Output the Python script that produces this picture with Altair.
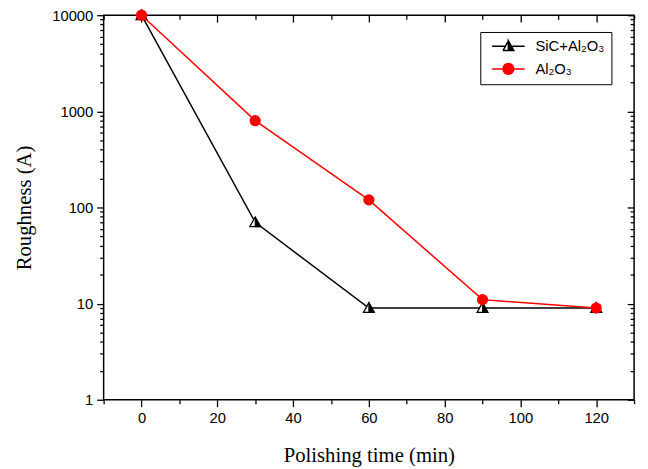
import altair as alt
import pandas as pd

# ---- data ----
times = [0, 30, 60, 90, 120]
sic_al2o3 = [10000, 70, 9, 9, 9]
al2o3 = [10000, 800, 120, 11, 9]
series_names = ["SiC+Al₂O₃", "Al₂O₃"]
series_colors = ["#000000", "#ff0000"]

x_major = [0, 20, 40, 60, 80, 100, 120]
x_minor = [-10, 10, 30, 50, 70, 90, 110, 130]
y_major = [1, 10, 100, 1000, 10000]
y_minor = [2, 3, 4, 5, 6, 7, 8, 9,
           20, 30, 40, 50, 60, 70, 80, 90,
           200, 300, 400, 500, 600, 700, 800, 900,
           2000, 3000, 4000, 5000, 6000, 7000, 8000, 9000]

df_sic = pd.DataFrame({"time": times, "value": sic_al2o3, "series": series_names[0]})
df_al = pd.DataFrame({"time": times, "value": al2o3, "series": series_names[1]})
df = pd.concat([df_sic, df_al], ignore_index=True)

# ---- shapes ----
tri_full = "M0,-1L1,0.8L-1,0.8Z"
tri_right = "M0,-1L1,0.8L0,0.8Z"
leg_tri = ("M-3,0L-0.56,0L-3,0 M0.56,0L3,0L0.56,0 "
           "M0,-1L-1,0.8L0,-1 M-1,0.8L0,0.8L-1,0.8 M0,-1L1,0.8L0,0.8Z")
leg_circ = ("M-3,0L-1,0L-3,0 M1,0L3,0L1,0 "
            "M1,0A1,1 0 1,1 -1,0A1,1 0 1,1 1,0Z")

W, H = 538, 390
xs = alt.Scale(domain=[-10, 130], nice=False, zero=False)
ys = alt.Scale(type="log", domain=[1, 10000], nice=False)

LF = "Liberation Sans"
TF = "Liberation Serif"


def ax(orient, values, size, labels=False, offset=0, title=None, tpad=0, fmt=None):
    kw = dict(orient=orient, values=values, tickSize=size, labels=labels,
              domain=False, grid=False, ticks=True, tickColor="#000000",
              tickWidth=1.3, tickOpacity=1, offset=offset, title=title)
    if labels:
        kw.update(labelFont=LF, labelFontSize=15, labelColor="black", labelPadding=4)
    if title:
        kw.update(titleFont=TF, titleFontSize=21, titleFontWeight="normal",
                  titleColor="black", titlePadding=tpad)
    if fmt:
        kw.update(format=fmt)
    return alt.Axis(**kw)


def enc(xa, ya):
    return dict(x=alt.X("time:Q", scale=xs, axis=xa),
                y=alt.Y("value:Q", scale=ys, axis=ya))


# major ticks + labels + titles (left / bottom), outward
black_line = alt.Chart(df_sic).mark_line(color="black", strokeWidth=1.5).encode(
    **enc(ax("bottom", x_major, 7, labels=True, title="Polishing time (min)", tpad=20, fmt="d"),
          ax("left", y_major, 7, labels=True, title="Roughness (A)", tpad=17, fmt="d")))
# minor outward ticks
minor_lb = alt.Chart(df_sic).mark_point(opacity=0).encode(
    **enc(ax("bottom", x_minor, 4), ax("left", y_minor, 4)))
# inward ticks on top / right
major_tr = alt.Chart(df_sic).mark_point(opacity=0).encode(
    **enc(ax("top", x_major, 7, offset=-7), ax("right", y_major, 7, offset=-7)))
minor_tr = alt.Chart(df_sic).mark_point(opacity=0).encode(
    **enc(ax("top", x_minor, 4, offset=-4), ax("right", y_minor, 4, offset=-4)))

tri_open = alt.Chart(df_sic).mark_point(shape=tri_full, size=121, filled=True,
                                        fill="white", stroke="black", strokeWidth=1.3,
                                        opacity=1).encode(**enc(None, None))
tri_half = alt.Chart(df_sic).mark_point(shape=tri_right, size=121, filled=True,
                                        fill="black", stroke="black", strokeWidth=1,
                                        opacity=1).encode(**enc(None, None))

red_line = alt.Chart(df_al).mark_line(color="#ff0000", strokeWidth=1.5).encode(**enc(None, None))
red_pts = alt.Chart(df_al).mark_point(shape="circle", size=130, filled=True,
                                      color="#ff0000", opacity=1).encode(**enc(None, None))

leg = alt.Legend(title=None, orient="none", legendX=382, legendY=17,
                 strokeColor="black", fillColor="white", padding=7,
                 symbolSize=121, symbolStrokeWidth=1.5, symbolOpacity=1,
                 symbolOffset=14, labelOffset=20, labelFont=LF, labelFontSize=15,
                 labelColor="black", labelLimit=300, rowPadding=6)

legend_layer = alt.Chart(df).mark_point(opacity=0, filled=True).encode(
    **enc(None, None),
    shape=alt.Shape("series:N", scale=alt.Scale(domain=series_names, range=[leg_tri, leg_circ]), legend=leg),
    fill=alt.Fill("series:N", scale=alt.Scale(domain=series_names, range=series_colors), legend=leg),
    stroke=alt.Stroke("series:N", scale=alt.Scale(domain=series_names, range=series_colors), legend=leg),
)

chart = alt.layer(
    black_line, minor_lb, major_tr, minor_tr,
    tri_open, tri_half, red_line, red_pts, legend_layer
).resolve_axis(x="independent", y="independent").properties(
    width=W, height=H,
    padding={"left": 6, "top": -5, "right": 5, "bottom": 5},
    background="white",
).configure_view(stroke="black", strokeWidth=1.5).configure_legend(strokeWidth=1)

chart.save("out.html", embed_options={"renderer": "svg", "actions": False})
